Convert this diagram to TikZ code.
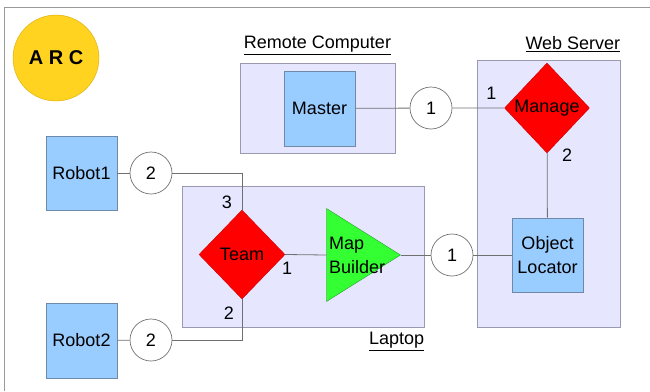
\documentclass[tikz,border=0pt]{standalone}
\usepackage{fontspec}
\setmainfont{Liberation Sans}
\usetikzlibrary{positioning, shapes.geometric, calc}
\definecolor{hostfill}{HTML}{E6E6FF}
\definecolor{hostline}{HTML}{9A9AAE}
\definecolor{procfill}{HTML}{99CCFF}
\definecolor{procline}{HTML}{6F8AA8}
\definecolor{wirecol}{HTML}{707070}
\definecolor{arcfill}{HTML}{FFD320}
\definecolor{arcline}{HTML}{D9A800}
\definecolor{mapfill}{HTML}{33FF33}
\definecolor{mapline}{HTML}{2A9A2A}
\tikzset{
  % --- containers (machines) ---
  host/.style={draw=hostline, fill=hostfill, line width=0.8pt, inner sep=0pt},
  hostname/.style={inner sep=0pt},
  % --- components ---
  proc/.style={draw=procline, fill=procfill, line width=0.8pt, align=center,
    minimum width=71pt, minimum height=75pt, inner sep=0pt},
  choice/.style={draw=red!80!black, fill=red, diamond, inner sep=0pt,
    minimum width=86pt, minimum height=89pt},
  link/.style={draw=wirecol, fill=white, circle, minimum size=42pt, inner sep=0pt,
    line width=0.7pt},
  tag/.style={inner sep=0pt},
  wire/.style={draw=wirecol, line width=0.8pt},
}
\begin{document}
\begin{tikzpicture}[x=1pt, y=-1pt, every node/.style={font=\fontsize{18}{24}\selectfont}]
    \useasboundingbox (0,0) rectangle (650,391);
    \draw[draw=gray!80, line width=0.8pt] (650,7) -| (4,391);
    % ---- Logo ----
    \node[circle, draw=arcline, fill=arcfill, minimum size=86pt, inner sep=0pt,
      font=\fontsize{20}{24}\selectfont\bfseries] (arc) at (56,58) {A R C};
    % ---- Containers ----
    \node[host, minimum width=155pt, minimum height=90pt] (remote) at (317.5,108) {};
    \node[hostname, anchor=south] at ($(remote.north)+(0,-8)$) {\underline{Remote Computer}};
    \node[host, minimum width=143pt, minimum height=267pt] (web) at (548.5,193.5) {};
    \node[hostname, anchor=south east] at ($(web.north east)+(0,-8)$) {\underline{Web Server}};
    \node[host, minimum width=242pt, minimum height=141pt] (laptop) at (303,256.5) {};
    \node[hostname, anchor=north east] at ($(laptop.south east)+(0,5)$) {\underline{Laptop}};
    % ---- Remote computer / web server ----
    \node[proc] (master) at (319.5,108.5) {Master};
    \node[link] (c1) at (431,108) {1};
    \node[choice, minimum width=85pt, minimum height=90pt] (manage) at (547,108) {Manage};
    \node[proc, minimum height=74pt] (loc) at (547.5,255) {Object\\Locator};
    \node[tag] at ($(manage.west)+(-13,-15)$) {1};
    \node[tag] at ($(manage.south)+(20,2)$) {2};
    % ---- Laptop ----
    \node[choice] (team) at (242,254.5) {Team};
    \node[isosceles triangle, isosceles triangle stretches, draw=mapline, fill=mapfill,
      minimum width=93pt, minimum height=74pt, inner sep=0pt, anchor=apex] (mapb) at (401,255) {};
    \node[anchor=west, align=left, inner sep=0pt] (mapbtext) at (329,255) {Map\\Builder};
    \node[link] (c2) at (452,255) {1};
    \node[tag] at ($(team.north)+(-15,-8)$) {3};
    \node[tag] at ($(team.south)+(-13,14)$) {2};
    \node[tag] at ($(team.east)+(2,13.5)$) {1};
    % ---- Robots ----
    \node[proc, minimum height=74pt] (robot1) at (81.5,173) {Robot1};
    \node[link] (r1c) at (151,173) {2};
    \node[proc, minimum height=75pt] (robot2) at (81.5,340.5) {Robot2};
    \node[link] (r2c) at (151,340) {2};
    % ---- Connections ----
    \draw[wire] (master) -- (c1) -- (manage);
    \draw[wire] (manage) -- (loc);
    \draw[wire] (robot1) -- (r1c);
    \draw[wire] (r1c.east) -| (team.north);
    \draw[wire] (robot2) -- (r2c);
    \draw[wire] (r2c.east) -| (team.south);
    \draw[wire] (team.east) -- (mapb.lower side);
    \draw[wire] (mapb.apex) -- (c2) -- (loc);
  \end{tikzpicture}
\end{document}
